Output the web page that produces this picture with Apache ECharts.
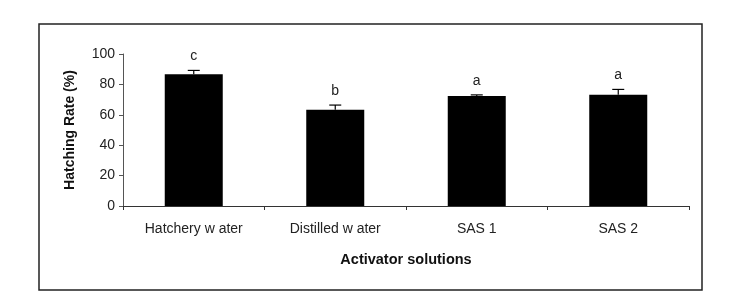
<!DOCTYPE html>
<html><head><meta charset="utf-8">
<script src="https://cdn.jsdelivr.net/npm/echarts@6/dist/echarts.min.js"></script>
<style>html,body{margin:0;padding:0;background:#fff}#c{width:739px;height:298px}</style>
</head><body><div id="c"></div>
<script>
var categories = ["Hatchery w ater", "Distilled w ater", "SAS 1", "SAS 2"];
var rates = [86.6, 63.4, 72.4, 73.2];
var errors = [2.6, 3.0, 0.7, 3.5];
var letters = ["c", "b", "a", "a"];
var yTicks = [0, 20, 40, 60, 80, 100];

var chart = echarts.init(document.getElementById('c'));
var font = "'Liberation Sans', Arial, sans-serif";
chart.setOption({
  animation: false,
  backgroundColor: '#fff',
  graphic: [{
    type: 'rect', shape: {x: 39, y: 24, width: 663, height: 266},
    style: {fill: 'none', stroke: '#222', lineWidth: 1.5}
  }],
  grid: {left: 123, right: 50, top: 54, bottom: 92},
  xAxis: {
    type: 'category', data: categories, boundaryGap: true,
    axisLine: {lineStyle: {color: '#333', width: 1}},
    axisTick: {show: true, length: 4, lineStyle: {color: '#333'}},
    axisLabel: {color: '#222', fontFamily: font, fontSize: 14, margin: 16},
    name: 'Activator solutions', nameLocation: 'middle', nameGap: 46,
    nameTextStyle: {fontWeight: 'bold', fontFamily: font, fontSize: 14.5, color: '#111'}
  },
  yAxis: {
    type: 'value', min: 0, max: 100, interval: 20,
    axisLine: {show: true, lineStyle: {color: '#555', width: 1}},
    axisTick: {show: true, length: 4, lineStyle: {color: '#555'}},
    splitLine: {show: false},
    axisLabel: {color: '#222', fontFamily: font, fontSize: 14, margin: 8,
      formatter: function (v) { return yTicks.indexOf(v) >= 0 ? String(v) : ''; }},
    name: 'Hatching Rate (%)', nameLocation: 'middle', nameGap: 46, nameRotate: 90,
    nameTextStyle: {fontWeight: 'bold', fontFamily: font, fontSize: 14, color: '#111'}
  },
  series: [{
    type: 'bar', data: rates, barWidth: 58,
    itemStyle: {color: '#000'}
  }, {
    type: 'custom',
    data: rates.map(function (v, i) { return [i, v, v + errors[i]]; }),
    renderItem: function (params, api) {
      var i = api.value(0);
      var p0 = api.coord([i, api.value(1)]);
      var p1 = api.coord([i, api.value(2)]);
      var cap = 6;
      return {
        type: 'group',
        children: [
          {type: 'line', shape: {x1: p0[0], y1: p0[1], x2: p1[0], y2: p1[1]}, style: {stroke: '#000', lineWidth: 1.2}},
          {type: 'line', shape: {x1: p1[0] - cap, y1: p1[1], x2: p1[0] + cap, y2: p1[1]}, style: {stroke: '#000', lineWidth: 1.2}},
          {type: 'text', x: p1[0], y: p1[1] - 7, style: {text: letters[params.dataIndex], fill: '#222', font: '14px ' + font, align: 'center', verticalAlign: 'bottom'}}
        ]
      };
    },
    z: 5
  }]
});
</script></body></html>
